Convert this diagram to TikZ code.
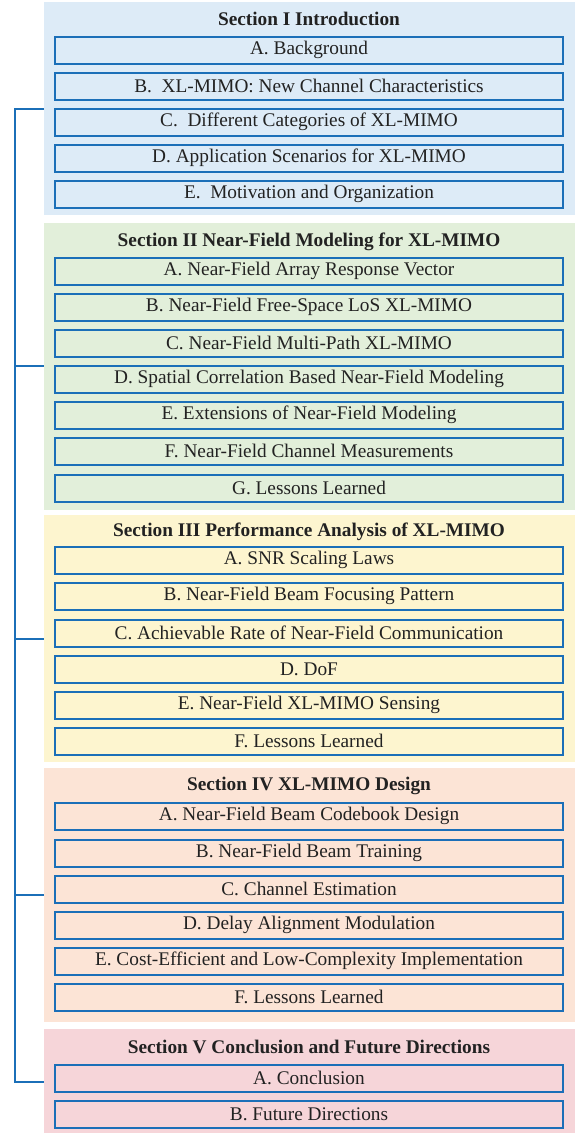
\documentclass[tikz,border=0pt]{standalone}
\usepackage{fontspec}
\setmainfont{Liberation Serif}
\definecolor{linkblue}{HTML}{1B6FB8}
\definecolor{pI}{HTML}{DDEBF7}
\definecolor{pII}{HTML}{E2EFDA}
\definecolor{pIII}{HTML}{FDF5CF}
\definecolor{pIV}{HTML}{FCE4D6}
\definecolor{pV}{HTML}{F6D5D9}
\definecolor{ink}{HTML}{222222}
\begin{document}
\begin{tikzpicture}[x=1pt,y=-1pt,
  panel/.style={draw=none,anchor=north west,inner sep=0pt,minimum width=531pt},
  title/.style={font=\fontsize{19.3}{21}\selectfont\bfseries,text=ink,inner sep=0pt},
  item/.style={draw=linkblue,line width=2pt,minimum width=508pt,minimum height=27pt,
    inner sep=0pt,font=\fontsize{19.3}{21}\selectfont,text=ink},
  spine/.style={draw=linkblue,line width=2.8pt}]
\useasboundingbox (0,0) rectangle (576,1133);

% section panels
\node[panel,fill=pI,  minimum height=213pt] (p1) at (44,2) {};
\node[panel,fill=pII, minimum height=287pt] (p2) at (44,223) {};
\node[panel,fill=pIII,minimum height=247pt] (p3) at (44,515) {};
\node[panel,fill=pIV, minimum height=254pt] (p4) at (44,768) {};
\node[panel,fill=pV,  minimum height=104pt] (p5) at (44,1029) {};

% Section I
\node[title] (t1) at (309,19) {Section I Introduction};
\node[item] (s1a) at (309,50)  {A. Background};
\node[item] (s1b) at (309,86)  {B.~ XL-MIMO: New Channel Characteristics};
\node[item] (s1c) at (309,122) {C.~ Different Categories of XL-MIMO};
\node[item] (s1d) at (309,158) {D. Application Scenarios for XL-MIMO};
\node[item] (s1e) at (309,194) {E.~ Motivation and Organization};

% Section II
\node[title] (t2) at (309,242) {Section II Near-Field Modeling for XL-MIMO};
\node[item] (s2a) at (309,271) {A. Near-Field Array Response Vector};
\node[item] (s2b) at (309,307) {B. Near-Field Free-Space LoS XL-MIMO};
\node[item] (s2c) at (309,343) {C. Near-Field Multi-Path XL-MIMO};
\node[item] (s2d) at (309,379) {D. Spatial Correlation Based Near-Field Modeling};
\node[item] (s2e) at (309,415) {E. Extensions of Near-Field Modeling};
\node[item] (s2f) at (309,451) {F. Near-Field Channel Measurements};
\node[item] (s2g) at (309,488) {G. Lessons Learned};

% Section III
\node[title] (t3) at (309,532) {Section III Performance Analysis of XL-MIMO};
\node[item] (s3a) at (309,560) {A. SNR Scaling Laws};
\node[item] (s3b) at (309,596) {B. Near-Field Beam Focusing Pattern};
\node[item] (s3c) at (309,633) {C. Achievable Rate of Near-Field Communication};
\node[item] (s3d) at (309,669) {D. DoF};
\node[item] (s3e) at (309,705) {E. Near-Field XL-MIMO Sensing};
\node[item] (s3f) at (309,741) {F. Lessons Learned};

% Section IV
\node[title] (t4) at (309,786) {Section IV XL-MIMO Design};
\node[item] (s4a) at (309,816) {A. Near-Field Beam Codebook Design};
\node[item] (s4b) at (309,853) {B. Near-Field Beam Training};
\node[item] (s4c) at (309,889) {C. Channel Estimation};
\node[item] (s4d) at (309,925) {D. Delay Alignment Modulation};
\node[item] (s4e) at (309,961) {E. Cost-Efficient and Low-Complexity Implementation};
\node[item] (s4f) at (309,997) {F. Lessons Learned};

% Section V
\node[title] (t5) at (309,1047) {Section V Conclusion and Future Directions};
\node[item] (s5a) at (309,1078) {A. Conclusion};
\node[item] (s5b) at (309,1114) {B. Future Directions};

% bracket joining the sections
\coordinate (j1) at (15,109);
\coordinate (j2) at (15,366);
\coordinate (j3) at (15,639);
\coordinate (j4) at (15,895);
\coordinate (j5) at (15,1082);
\draw[spine] (j1 -| p1.west) -- (j1) -- (j5) -- (j5 -| p5.west);
\draw[spine] (j2) -- (j2 -| p2.west);
\draw[spine] (j3) -- (j3 -| p3.west);
\draw[spine] (j4) -- (j4 -| p4.west);
\end{tikzpicture}
\end{document}
